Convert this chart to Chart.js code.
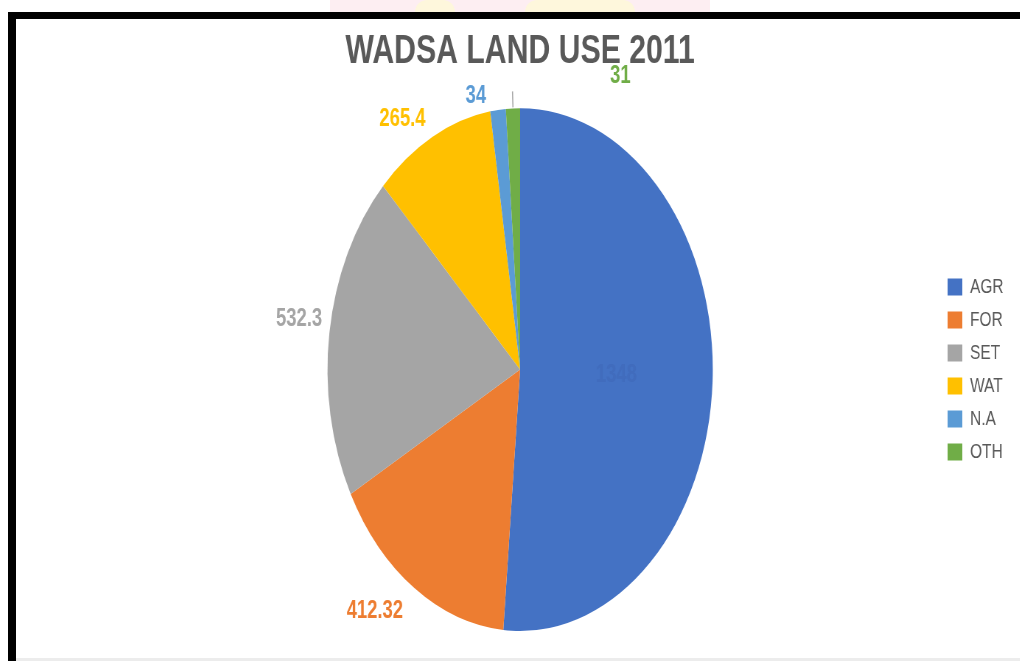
<!DOCTYPE html>
<html>
<head>
<meta charset="utf-8">
<script src="https://cdn.jsdelivr.net/npm/chart.js@4.4.1/dist/chart.umd.min.js"></script>
<style>
  html, body { margin: 0; padding: 0; background: #fff; overflow: hidden; }
  body { width: 1020px; height: 661px; position: relative; font-family: "Liberation Sans", Arial, sans-serif; }
  .bar { position: absolute; background: #000; }
  #wrap { position: absolute; left: 16px; top: 19px; width: 1362px; height: 639px;
          transform: scaleX(0.737); transform-origin: 0 0; }
  .mark { position: absolute; }
</style>
</head>
<body>
<!-- faint watermark above the frame -->
<div class="mark" style="left:330px;top:0;width:380px;height:12px;background:#fdeef2;"></div>
<div class="mark" style="left:415px;top:0;width:40px;height:12px;background:#fef7dc;border-radius:20px 20px 0 0;"></div>
<div class="mark" style="left:525px;top:0;width:110px;height:12px;background:#fef7dc;border-radius:50px 50px 0 0;"></div>

<div class="bar" style="left:8px;top:12px;width:1012px;height:7px;"></div>
<div class="bar" style="left:8px;top:12px;width:8px;height:649px;"></div>
<div class="mark" style="left:16px;top:658px;width:1004px;height:3px;background:#ececec;"></div>

<div id="wrap"><canvas id="pieChart" width="1362" height="639"></canvas></div>

<script>
// ================= DATOS =================
const categories = ["AGR", "FOR", "SET", "WAT", "N.A", "OTH"];
const landValues = [1348, 412.32, 532.3, 265.4, 34, 31];
const valueLabels = ["1348", "412.32", "532.3", "265.4", "34", "31"];
const sliceColors = ["#4472C4", "#ED7D31", "#A5A5A5", "#FFC000", "#5B9BD5", "#70AD47"];

// where each value label goes: inside the slice, just outside, or with a leader line
const labelPlace = ["inside", "outside", "outside", "outside", "outside", "leader"];
const labelShiftDeg = [0, 0, 2.5, 0, -3, 27];
const labelExtraPad = [0, 16, 0, 8, 4, 0];


// ================= ETIQUETAS =================
const pieLabels = {
    id: "pieLabels",
    afterDatasetsDraw(chart) {
        const ctx = chart.ctx;
        const meta = chart.getDatasetMeta(0);
        ctx.save();
        ctx.font = "bold 25px 'Liberation Sans', Arial, sans-serif";
        ctx.textBaseline = "middle";

        meta.data.forEach((arc, i) => {
            const p = arc.getProps(["x", "y", "startAngle", "endAngle", "outerRadius"], true);
            const mid = (p.startAngle + p.endAngle) / 2;
            const r = p.outerRadius;
            const color = sliceColors[i];

            if (labelPlace[i] === "inside") {
                ctx.fillStyle = "#416CBD";
                ctx.textAlign = "center";
                ctx.fillText(valueLabels[i], p.x + Math.cos(mid) * r * 0.5, p.y + Math.sin(mid) * r * 0.5);
                return;
            }

            if (labelPlace[i] === "leader") {
                ctx.strokeStyle = "#A6A6A6";
                ctx.lineWidth = 1.5;
                ctx.beginPath();
                ctx.moveTo(p.x + Math.cos(mid) * (r + 1), p.y + Math.sin(mid) * (r + 1));
                ctx.lineTo(p.x + Math.cos(mid) * (r + 17), p.y + Math.sin(mid) * (r + 17));
                ctx.stroke();
                const a = mid + labelShiftDeg[i] * Math.PI / 180;
                ctx.fillStyle = color;
                ctx.textAlign = "center";
                ctx.fillText(valueLabels[i], p.x + Math.cos(a) * (r + 62), p.y + Math.sin(a) * (r + 62));
                return;
            }

            const a = mid + labelShiftDeg[i] * Math.PI / 180;
            const d = r + 12 + labelExtraPad[i];
            const lx = p.x + Math.cos(a) * d;
            const ly = p.y + Math.sin(a) * d;
            ctx.fillStyle = color;
            ctx.textAlign = lx < p.x ? "right" : "left";
            ctx.fillText(valueLabels[i], lx, ly);
        });
        ctx.restore();
    }
};


// ================= GRÁFICA =================
const pieChart = new Chart(document.getElementById("pieChart"), {
    type: "pie",
    data: {
        labels: categories,
        datasets: [{
            data: landValues,
            backgroundColor: sliceColors,
            borderWidth: 0
        }]
    },
    options: {
        responsive: false,
        animation: false,
        layout: { padding: { top: 0, left: 116, right: 12, bottom: 27 } },
        plugins: {
            title: {
                display: true,
                fullSize: false,
                text: "WADSA LAND USE 2011",
                color: "#595959",
                font: { family: "'Liberation Sans', Arial, sans-serif", size: 41, weight: "bold", lineHeight: 1.2 },
                padding: { top: 8, bottom: 32 }
            },
            legend: {
                position: "right",
                fullSize: false,
                align: "center",
                labels: {
                    boxWidth: 20,
                    boxHeight: 17,
                    padding: 12,
                    color: "#595959",
                    font: { family: "'Liberation Sans', Arial, sans-serif", size: 21 }
                }
            },
            tooltip: { enabled: false }
        }
    },
    plugins: [pieLabels]
});
</script>
</body>
</html>
